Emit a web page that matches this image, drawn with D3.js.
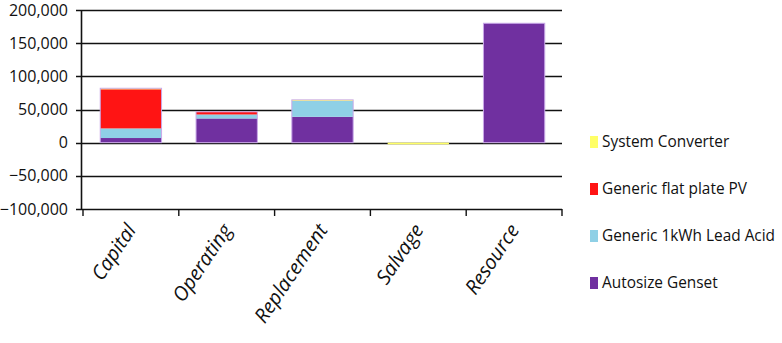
<!DOCTYPE html>
<head>
    <meta charset="utf-8">
    <title>Cost breakdown by component</title>
    <style>
        body { margin: 0; background: #fff; }
        text { font-family: "Open Sans", "Liberation Sans", sans-serif; fill: #111; }
    </style>
</head>
<body>

<svg width="782" height="343"></svg>

<script src="https://d3js.org/d3.v7.min.js"></script>

<script>

    // categories along the x axis
    const categories = ["Capital", "Operating", "Replacement", "Salvage", "Resource"];

    // one value per category for each component
    const genset    = [7000, 36500, 39000, 0, 180000];
    const leadAcid  = [14500, 6000, 24000, 0, 0];
    const flatPV    = [59000, 4000, 0, 0, 0];
    const converter = [1500, 0, 1500, -2500, 0];

    const seriesNames  = ["Autosize Genset", "Generic 1kWh Lead Acid", "Generic flat plate PV", "System Converter"];
    const seriesColors = ["#7030a0", "#8fd0e6", "#ff1414", "#ffff66"];
    const yTicks = [-100000, -50000, 0, 50000, 100000, 150000, 200000];

    const svg = d3.select("svg");
    const margin = {left: 81, right: 220, top: 10, bottom: 134};
    const width = +svg.attr("width");
    const height = +svg.attr("height");

    // build rows for d3.stack
    const rows = categories.map(function(c, i) {
        return {
            cat: c,
            "Autosize Genset": genset[i],
            "Generic 1kWh Lead Acid": leadAcid[i],
            "Generic flat plate PV": flatPV[i],
            "System Converter": converter[i]
        };
    });

    const stack = d3.stack()
        .keys(seriesNames)
        .offset(d3.stackOffsetDiverging);
    const layers = stack(rows);

    const x = d3.scaleBand()
        .domain(categories)
        .range([margin.left + 2, width - margin.right])
        .paddingInner(0.36)
        .paddingOuter(0.18);

    const y = d3.scaleLinear()
        .domain([-100000, 200000])
        .range([height - margin.bottom, margin.top]);

    const color = d3.scaleOrdinal(seriesNames, seriesColors);

    // gridlines
    svg.append("g")
        .selectAll("line")
        .data(yTicks)
        .enter().append("line")
            .attr("x1", margin.left - 5)
            .attr("x2", width - margin.right)
            .attr("y1", function(d) { return Math.round(y(d)) + 0.5; })
            .attr("y2", function(d) { return Math.round(y(d)) + 0.5; })
            .attr("stroke", "#111")
            .attr("stroke-width", 1.6);

    // y tick labels
    svg.append("g")
        .selectAll("text")
        .data(yTicks)
        .enter().append("text")
            .attr("x", margin.left - 13)
            .attr("y", function(d) { return y(d); })
            .attr("dy", "0.35em")
            .attr("text-anchor", "end")
            .style("font-size", "16px")
            .text(d3.format(","));

    // bars
    svg.append("g")
        .selectAll("g")
        .data(layers)
        .enter().append("g")
            .attr("fill", function(d) { return color(d.key); })
        .selectAll("rect")
        .data(function(d) { return d; })
        .enter().append("rect")
            .attr("x", function(d) { return x(d.data.cat); })
            .attr("width", x.bandwidth())
            .attr("y", function(d) { return y(Math.max(d[0], d[1])); })
            .attr("height", function(d) { return Math.abs(y(d[0]) - y(d[1])); });

    // light outline around each full bar
    function posTotal(d) { return d3.sum(seriesNames, function(k) { return Math.max(0, d[k]); }); }
    svg.append("g")
        .selectAll("rect")
        .data(rows.filter(function(r) { return posTotal(r) > 0; }))
        .enter().append("rect")
            .attr("x", function(d) { return x(d.cat); })
            .attr("width", x.bandwidth())
            .attr("y", function(d) { return y(posTotal(d)); })
            .attr("height", function(d) { return y(0) - y(posTotal(d)); })
            .attr("fill", "none")
            .attr("stroke", "#c9a8e8")
            .attr("stroke-width", 1);

    // y axis line
    svg.append("line")
        .attr("x1", margin.left + 0.5).attr("x2", margin.left + 0.5)
        .attr("y1", y(200000)).attr("y2", y(-100000))
        .attr("stroke", "#111").attr("stroke-width", 1.6);

    // category boundary ticks on the bottom axis
    const plotW = width - margin.right - margin.left - 2;
    svg.append("g")
        .selectAll("line")
        .data(d3.range(categories.length + 1))
        .enter().append("line")
            .attr("x1", function(i) { return margin.left + 2 + i * plotW / categories.length; })
            .attr("x2", function(i) { return margin.left + 2 + i * plotW / categories.length; })
            .attr("y1", y(-100000))
            .attr("y2", y(-100000) + 7)
            .attr("stroke", "#111")
            .attr("stroke-width", 1.4);

    // category labels, rotated
    svg.append("g")
        .selectAll("text")
        .data(categories)
        .enter().append("text")
            .attr("transform", function(d) {
                return "translate(" + (x(d) + x.bandwidth() / 2 + 6) + "," + (y(-100000) + 21) + ") rotate(-56)";
            })
            .attr("text-anchor", "end")
            .style("font-size", "20px")
            .style("font-style", "italic")
            .text(function(d) { return d; });

    // legend, top item is the last series
    const legend = svg.append("g")
        .selectAll("g")
        .data(seriesNames.slice().reverse())
        .enter().append("g")
            .attr("transform", function(d, i) { return "translate(590," + (142 + i * 47) + ")"; });

    legend.append("rect")
        .attr("x", 0)
        .attr("y", -6)
        .attr("width", 8)
        .attr("height", 12)
        .attr("fill", function(d) { return color(d); });

    legend.append("text")
        .attr("x", 12)
        .attr("dy", "0.35em")
        .style("font-size", "15.4px")
        .text(function(d) { return d; });

</script>

</body>
